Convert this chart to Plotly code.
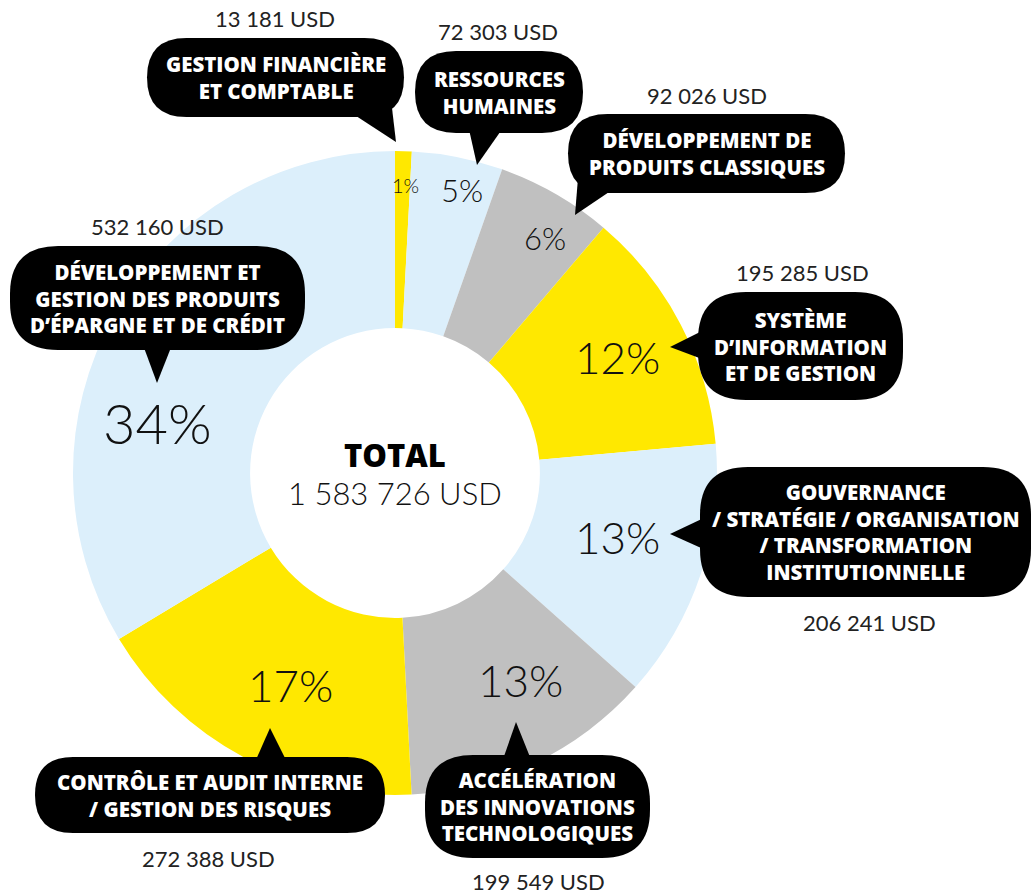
import plotly.graph_objects as go

# Budget par domaine (USD), dans l'ordre horaire depuis midi
categories = [
    "GESTION FINANCIÈRE<br>ET COMPTABLE",
    "RESSOURCES<br>HUMAINES",
    "DÉVELOPPEMENT DE<br>PRODUITS CLASSIQUES",
    "SYSTÈME<br>D’INFORMATION<br>ET DE GESTION",
    "GOUVERNANCE<br>/ STRATÉGIE / ORGANISATION<br>/ TRANSFORMATION<br>INSTITUTIONNELLE",
    "ACCÉLÉRATION<br>DES INNOVATIONS<br>TECHNOLOGIQUES",
    "CONTRÔLE ET AUDIT INTERNE<br>/ GESTION DES RISQUES",
    "DÉVELOPPEMENT ET<br>GESTION DES PRODUITS<br>D’ÉPARGNE ET DE CRÉDIT",
]
values = [13181, 72303, 92026, 195285, 206241, 199549, 272388, 532160]
total_label = "1 583 726 USD"

YELLOW = "#FFE800"
BLUE = "#DCEFFB"
GREY = "#C0C0C0"
colors = [YELLOW, BLUE, GREY, YELLOW, BLUE, GREY, YELLOW, BLUE]

W, H = 1032, 896

# callout layout in pixels: box (x0, y0, x1, y1), pointer base pts, tip, usd label pos,
# percent label pos and size
callouts = [
    dict(box=(147, 38, 404, 117), base=((350, 112), (392, 108)), tip=(396, 142), usd=(275, 18),
         pct=(405, 185, 20)),
    dict(box=(415, 51, 583, 133), base=((468, 125), (505, 125)), tip=(477, 165), usd=(498, 31),
         pct=(462, 190, 31)),
    dict(box=(568, 114, 845, 193), base=((578, 178), (615, 188)), tip=(575, 215), usd=(707, 95),
         pct=(545, 238, 31)),
    dict(box=(698, 292, 903, 400), base=((708, 328), (710, 362)), tip=(670, 347), usd=(802, 272),
         pct=(617, 357, 44)),
    dict(box=(700, 467, 1031, 597), base=((708, 516), (710, 552)), tip=(670, 534), usd=(869, 622),
         pct=(617, 537, 44)),
    dict(box=(425, 755, 650, 858), base=((502, 762), (532, 762)), tip=(516, 722), usd=(538, 881),
         pct=(520, 680, 44)),
    dict(box=(35, 757, 385, 833), base=((255, 762), (287, 762)), tip=(270, 728), usd=(208, 858),
         pct=(290, 685, 44)),
    dict(box=(10, 246, 305, 350), base=((143, 345), (172, 345)), tip=(157, 383), usd=(157, 226),
         pct=(157, 422, 56)),
]


def pill(x0, y0, x1, y1):
    r = min((y1 - y0) / 2, 48)
    return (f"M {x0 + r},{y0} L {x1 - r},{y0} Q {x1},{y0} {x1},{y0 + r} "
            f"L {x1},{y1 - r} Q {x1},{y1} {x1 - r},{y1} L {x0 + r},{y1} "
            f"Q {x0},{y1} {x0},{y1 - r} L {x0},{y0 + r} Q {x0},{y0} {x0 + r},{y0} Z")


def fmt(v):
    return f"{v:,}".replace(",", " ") + " USD"


total = sum(values)
pcts = [f"{round(100 * v / total)}%" for v in values]

# pie centre (395, 473), radius 322 px
cx, cy, R = 395, 473, 322
fig = go.Figure()
fig.add_trace(go.Pie(
    values=values,
    labels=[c.replace("<br>", " ") for c in categories],
    sort=False,
    direction="clockwise",
    rotation=0,
    hole=0.45,
    marker=dict(colors=colors, line=dict(width=0)),
    textinfo="none",
    hoverinfo="skip",
    showlegend=False,
    domain=dict(x=[(cx - R) / W, (cx + R) / W], y=[(H - cy - R) / H, (H - cy + R) / H]),
))

# invisible pixel-space axes for callouts
fig.update_xaxes(range=[0, W], visible=False, fixedrange=True)
fig.update_yaxes(range=[H, 0], visible=False, fixedrange=True)
fig.add_trace(go.Scatter(x=[0, W], y=[0, H], mode="markers", marker=dict(opacity=0),
                         hoverinfo="skip", showlegend=False))

BOLD = dict(family="Open Sans", size=20.5, color="white", weight=800)

for c, name, v, p in zip(callouts, categories, values, pcts):
    x0, y0, x1, y1 = c["box"]
    (bx1, by1), (bx2, by2) = c["base"]
    tx, ty = c["tip"]
    fig.add_shape(type="path", path=pill(x0, y0, x1, y1), xref="x", yref="y",
                  fillcolor="black", line=dict(width=0), layer="above")
    fig.add_shape(type="path", path=f"M {bx1},{by1} L {tx},{ty} L {bx2},{by2} Z",
                  xref="x", yref="y", fillcolor="black", line=dict(width=0), layer="above")
    fig.add_annotation(x=(x0 + x1) / 2, y=(y0 + y1) / 2, xref="x", yref="y", text=name,
                       showarrow=False, align="center", font=BOLD)
    ux, uy = c["usd"]
    fig.add_annotation(x=ux, y=uy, xref="x", yref="y", text=fmt(v), showarrow=False,
                       font=dict(family="Lato", size=22, color="#222222"))
    px_, py_, ps = c["pct"]
    fig.add_annotation(x=px_, y=py_, xref="x", yref="y", text=p, showarrow=False,
                       font=dict(family="Lato", size=ps, color="#111111", weight=300))

fig.add_annotation(x=cx, y=455, xref="x", yref="y", text="TOTAL", showarrow=False,
                   font=dict(family="Open Sans", size=31, color="black", weight=800))
fig.add_annotation(x=cx, y=493, xref="x", yref="y", text=total_label, showarrow=False,
                   font=dict(family="Lato", size=31, color="#111111", weight=300))

fig.update_layout(
    width=W, height=H,
    margin=dict(l=0, r=0, t=0, b=0),
    paper_bgcolor="white", plot_bgcolor="rgba(0,0,0,0)",
)

fig.write_html("out.html", config={"displayModeBar": False},
               post_script="document.body.style.margin='0';")
